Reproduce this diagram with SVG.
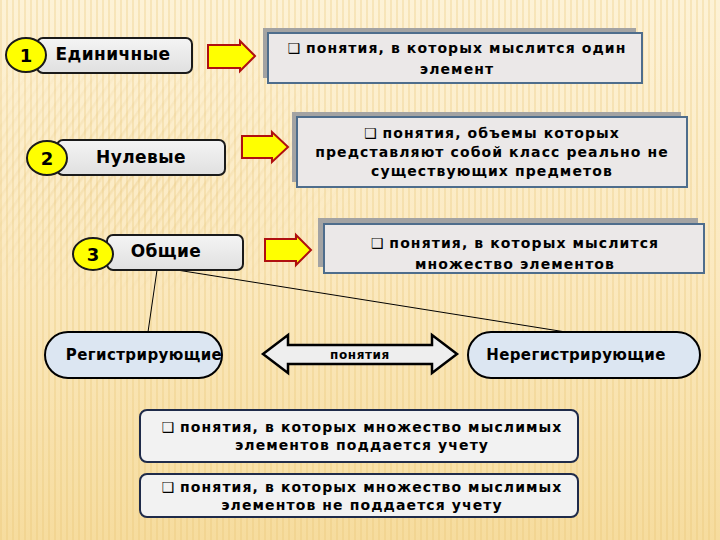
<svg xmlns="http://www.w3.org/2000/svg" width="720" height="540" viewBox="0 0 720 540">
<defs>
<linearGradient id="bg" x1="0" y1="0" x2="0" y2="1">
<stop offset="0" stop-color="#fdf2d6"/>
<stop offset="0.5" stop-color="#fbe9c0"/>
<stop offset="1" stop-color="#f6dc9e"/>
</linearGradient>
<pattern id="vstripes" width="6" height="10" patternUnits="userSpaceOnUse">
<rect x="0" y="0" width="2" height="10" fill="#e6c070" opacity="0.28"/>
</pattern>
<pattern id="dstripes" width="8" height="8" patternUnits="userSpaceOnUse" patternTransform="rotate(35)">
<rect x="0" y="0" width="2.5" height="8" fill="#e6c070" opacity="0.3"/>
</pattern>
<radialGradient id="fade" cx="0.35" cy="0.5" r="0.6">
<stop offset="0" stop-color="#fff" stop-opacity="1"/>
<stop offset="1" stop-color="#fff" stop-opacity="0"/>
</radialGradient>
<mask id="dmask">
<rect x="0" y="60" width="380" height="230" fill="url(#fade)"/>
</mask>
<linearGradient id="lbl" x1="0" y1="0" x2="0" y2="1">
<stop offset="0" stop-color="#f4f4f4"/>
<stop offset="1" stop-color="#e0e0e0"/>
</linearGradient>
<style>
.lbl{fill:url(#lbl);stroke:#1a1a1a;stroke-width:2}
.num{fill:#ffff00;stroke:#1a1a1a;stroke-width:2}
.numt{font-family:"DejaVu Sans","Liberation Sans",sans-serif;font-weight:bold;font-size:18px;fill:#000;text-anchor:middle}
.lt{font-family:"DejaVu Sans","Liberation Sans",sans-serif;font-weight:bold;font-size:17px;letter-spacing:0.4px;fill:#000;text-anchor:middle}
.arr{fill:#ffff00;stroke:#b01010;stroke-width:2;stroke-linejoin:miter}
.shadow{fill:#a3a3a3}
.dbox{fill:#ebe8e8;stroke:#4e6d8c;stroke-width:2}
.dt{font-family:"DejaVu Sans","Liberation Sans",sans-serif;font-weight:bold;font-size:14px;letter-spacing:1.1px;fill:#000;text-anchor:middle}
.sq{font-weight:normal;letter-spacing:0}
.ell{fill:#dce6f2;stroke:#000;stroke-width:2}
.et{font-family:"DejaVu Sans","Liberation Sans",sans-serif;font-weight:bold;font-size:15px;letter-spacing:0.4px;fill:#000;text-anchor:middle}
.bbox{fill:#f2f2f2;stroke:#1f2b4a;stroke-width:2}
.dbl{fill:#eeeeee;stroke:#000;stroke-width:2.5;stroke-linejoin:miter}
.conn{stroke:#000;stroke-width:1;fill:none}
</style>
</defs>
<rect width="720" height="540" fill="url(#bg)"/>
<rect width="720" height="540" fill="url(#vstripes)"/>
<rect x="0" y="60" width="380" height="230" fill="url(#dstripes)" mask="url(#dmask)"/>

<g id="connectors">
<line class="conn" x1="157" y1="270" x2="148" y2="332"/>
<line class="conn" x1="177" y1="270" x2="572" y2="333"/>
</g>

<g id="node-1">
<rect class="lbl" x="37" y="38" width="155" height="35" rx="6"/>
<ellipse class="num" cx="26" cy="55" rx="20" ry="17"/>
<text class="numt" x="26" y="62">1</text>
<text class="lt" x="113" y="60">Единичные</text>
</g>
<g id="arrow-1">
<polygon class="arr" points="208,45 240,45 240,41 255,56 240,71 240,68 208,68"/>
</g>
<g id="desc-1">
<rect class="shadow" x="263" y="28" width="373" height="50"/>
<rect class="dbox" x="268" y="33" width="374" height="50"/>
<text class="dt" x="457" y="53"><tspan class="sq">❑</tspan> понятия, в которых мыслится один</text>
<text class="dt" x="457" y="74">элемент</text>
</g>

<g id="node-2">
<rect class="lbl" x="57" y="140" width="168" height="35" rx="6"/>
<ellipse class="num" cx="47" cy="158" rx="20" ry="17"/>
<text class="numt" x="47" y="165">2</text>
<text class="lt" x="141" y="163">Нулевые</text>
</g>
<g id="arrow-2">
<polygon class="arr" points="242,136 272,136 272,132 288,147 272,162 272,158 242,158"/>
</g>
<g id="desc-2">
<rect class="shadow" x="292" y="112" width="389" height="70"/>
<rect class="dbox" x="297" y="117" width="390" height="70"/>
<text class="dt" x="492" y="138"><tspan class="sq">❑</tspan> понятия, объемы которых</text>
<text class="dt" x="492" y="157">представляют собой класс реально не</text>
<text class="dt" x="492" y="176">существующих предметов</text>
</g>

<g id="node-3">
<rect class="lbl" x="107" y="235" width="136" height="35" rx="6"/>
<ellipse class="num" cx="93" cy="254" rx="20" ry="16"/>
<text class="numt" x="93" y="261">3</text>
<text class="lt" x="166" y="257">Общие</text>
</g>
<g id="arrow-3">
<polygon class="arr" points="265,239 296,239 296,235 311,250 296,265 296,261 265,261"/>
</g>
<g id="desc-3">
<rect class="shadow" x="318" y="218" width="380" height="49"/>
<rect class="dbox" x="324" y="224" width="380" height="49"/>
<text class="dt" x="515" y="248"><tspan class="sq">❑</tspan> понятия, в которых мыслится</text>
<text class="dt" x="515" y="269">множество элементов</text>
</g>

<g id="node-registering">
<rect class="ell" x="45" y="332" width="177" height="46" rx="23"/>
<text class="et" x="144" y="360">Регистрирующие</text>
</g>
<g id="double-arrow">
<polygon class="dbl" points="263,354 288,335 288,345 432,345 432,335 457,354 432,373 432,364 288,364 288,373"/>
<text x="360" y="359" style="font-family:'DejaVu Sans','Liberation Sans',sans-serif;font-weight:bold;font-size:12px;letter-spacing:0.6px;text-anchor:middle">понятия</text>
</g>
<g id="node-nonregistering">
<rect class="ell" x="468" y="332" width="232" height="46" rx="23"/>
<text class="et" x="576" y="360">Нерегистрирующие</text>
</g>

<g id="desc-4">
<rect class="bbox" x="140" y="410" width="438" height="52" rx="7"/>
<text class="dt" x="362" y="432"><tspan class="sq">❑</tspan> понятия, в которых множество мыслимых</text>
<text class="dt" x="362" y="450">элементов поддается учету</text>
</g>
<g id="desc-5">
<rect class="bbox" x="140" y="474" width="438" height="43" rx="7"/>
<text class="dt" x="362" y="492"><tspan class="sq">❑</tspan> понятия, в которых множество мыслимых</text>
<text class="dt" x="362" y="510">элементов не поддается учету</text>
</g>
</svg>
